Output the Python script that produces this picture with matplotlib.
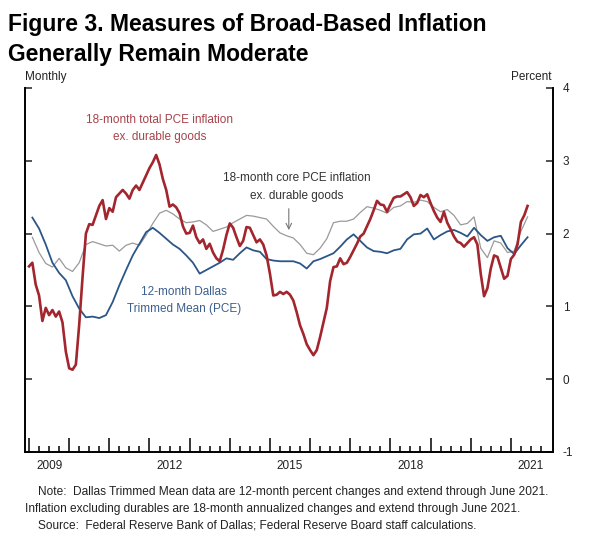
import numpy as np
import pandas as pd
import matplotlib
matplotlib.use('Agg')
from matplotlib import pyplot as plt

plt.rcParams['font.family'] = ['Liberation Sans', 'DejaVu Sans']
plt.rcParams['axes.unicode_minus'] = False

# monthly, Jan 2009 - Jun 2021
months = pd.date_range('2009-01-01', '2021-06-01', freq='MS')
# every other month, Feb 2009 - Jun 2021
bimonths = pd.date_range('2009-02-01', '2021-06-01', freq='2MS')

total_ex_durables = [
    1.55, 1.60, 1.30, 1.15, 0.80, 0.98, 0.88, 0.95, 0.86, 0.93, 0.78, 0.38,
    0.15, 0.13, 0.20, 0.75, 1.40, 2.00, 2.13, 2.12, 2.25, 2.38, 2.46, 2.20,
    2.35, 2.30, 2.50, 2.55, 2.60, 2.55, 2.48, 2.60, 2.66, 2.60, 2.70, 2.80,
    2.90, 2.98, 3.08, 2.95, 2.75, 2.60, 2.37, 2.40, 2.36, 2.28, 2.10, 2.00,
    2.01, 2.11, 1.95, 1.87, 1.92, 1.79, 1.86, 1.74, 1.66, 1.62, 1.78, 1.98,
    2.14, 2.08, 1.95, 1.83, 1.90, 2.09, 2.08, 1.98, 1.88, 1.92, 1.85, 1.70,
    1.45, 1.15, 1.16, 1.20, 1.17, 1.20, 1.16, 1.08, 0.92, 0.74, 0.62, 0.48,
    0.40, 0.33, 0.40, 0.58, 0.78, 0.98, 1.35, 1.54, 1.55, 1.66, 1.58, 1.60,
    1.68, 1.77, 1.86, 1.96, 2.00, 2.10, 2.20, 2.32, 2.45, 2.40, 2.39, 2.30,
    2.40, 2.49, 2.51, 2.51, 2.54, 2.57, 2.50, 2.38, 2.42, 2.53, 2.50, 2.54,
    2.42, 2.31, 2.22, 2.16, 2.30, 2.15, 2.06, 1.96, 1.89, 1.87, 1.82, 1.87,
    1.92, 1.95, 1.85, 1.45, 1.14, 1.25, 1.52, 1.70, 1.68, 1.53, 1.38, 1.42,
    1.65, 1.71, 1.85, 2.16, 2.25, 2.38,
]

dallas_trimmed = [
    2.22, 2.07, 1.85, 1.60, 1.46, 1.36, 1.14, 0.97, 0.85, 0.86, 0.84, 0.88,
    1.06, 1.29, 1.50, 1.70, 1.86, 2.02, 2.08, 2.01, 1.93, 1.85, 1.79, 1.70,
    1.60, 1.45, 1.50, 1.55, 1.60, 1.66, 1.64, 1.73, 1.81, 1.77, 1.75, 1.65,
    1.63, 1.62, 1.62, 1.62, 1.59, 1.52, 1.62, 1.65, 1.69, 1.73, 1.82, 1.92,
    1.99, 1.90, 1.81, 1.76, 1.75, 1.73, 1.77, 1.79, 1.92, 1.99, 2.00, 2.07,
    1.92, 1.98, 2.03, 2.05, 2.01, 1.96, 2.08, 1.98, 1.90, 1.95, 1.97, 1.80,
    1.72, 1.84, 1.95,
]

core_ex_durables = [
    1.95, 1.74, 1.59, 1.54, 1.66, 1.53, 1.48, 1.60, 1.85, 1.89, 1.86, 1.83,
    1.84, 1.76, 1.84, 1.87, 1.84, 1.98, 2.14, 2.28, 2.32, 2.27, 2.20, 2.15,
    2.16, 2.18, 2.12, 2.03, 2.06, 2.09, 2.15, 2.20, 2.25, 2.24, 2.22, 2.20,
    2.10, 2.01, 1.97, 1.94, 1.85, 1.73, 1.71, 1.80, 1.93, 2.15, 2.17, 2.17,
    2.20, 2.29, 2.37, 2.35, 2.32, 2.28, 2.36, 2.38, 2.44, 2.43, 2.46, 2.44,
    2.36, 2.30, 2.33, 2.25, 2.12, 2.14, 2.23, 1.80, 1.67, 1.90, 1.87, 1.74,
    1.76, 2.03, 2.23,
]

year_labels = ['2009', '2012', '2015', '2018', '2021']


def decimal_year(dates):
    return dates.year + (dates.month - 1) / 12


RED = '#a3252d'
BLUE = '#2b5688'
GRAY = '#9a9a9a'

fig = plt.figure(figsize=(6, 5.42), dpi=100)
ax = fig.add_axes([25 / 600, 1 - 452 / 542, 528 / 600, 364 / 542])

ax.plot(decimal_year(bimonths), core_ex_durables, color=GRAY, lw=0.9)
ax.plot(decimal_year(bimonths), dallas_trimmed, color=BLUE, lw=1.3)
ax.plot(decimal_year(months), total_ex_durables, color=RED, lw=1.9)

ax.set_xlim(2008.9, 2022.05)
ax.set_ylim(-1, 4)

ax.set_xticks(range(2009, 2022))
ax.set_xticks(np.arange(2009, 2022, 0.25), minor=True)
ax.tick_params(axis='x', which='major', direction='in', length=10, width=1.1, labelbottom=False)
ax.tick_params(axis='x', which='minor', direction='in', length=4.5, width=1.1)

ax.set_yticks(range(-1, 5))
ax.yaxis.set_ticks_position('both')
ax.tick_params(axis='y', direction='in', length=5, width=1.1, labelleft=False,
               labelright=True, pad=7, labelsize=8.5, colors='#222')

sec = ax.secondary_xaxis('bottom')
sec.set_xticks([int(y) + 0.5 for y in year_labels], labels=year_labels)
sec.tick_params(length=0, pad=6, labelsize=8.5, colors='#222')
sec.spines['bottom'].set_visible(False)

ax.spines['top'].set_visible(False)
for s in ['left', 'right', 'bottom']:
    ax.spines[s].set_linewidth(1.4)

# series labels
ax.text(2012.26, 3.44, '18-month total PCE inflation\nex. durable goods', color='#a6434b',
        fontsize=8.5, ha='center', va='center', linespacing=1.55)
ax.text(2015.67, 2.64, '18-month core PCE inflation\nex. durable goods', color='#333333',
        fontsize=8.5, ha='center', va='center', linespacing=1.6)
ax.text(2012.87, 1.085, '12-month Dallas\nTrimmed Mean (PCE)', color='#3b5f8f',
        fontsize=8.5, ha='center', va='center', linespacing=1.55)
ax.annotate('', xy=(2015.47, 2.01), xytext=(2015.47, 2.38),
            arrowprops=dict(arrowstyle='->', color='#777777', lw=0.8))

fig.text(8 / 600, 1 - 25 / 542, 'Figure 3. Measures of Broad-Based Inflation',
         fontsize=16.5, fontweight='bold', va='center', ha='left')
fig.text(8 / 600, 1 - 54 / 542, 'Generally Remain Moderate',
         fontsize=16.5, fontweight='bold', va='center', ha='left')
fig.text(25 / 600, 1 - 77 / 542, 'Monthly', fontsize=8.5, va='center', ha='left', color='#222')
fig.text(551 / 600, 1 - 77 / 542, 'Percent', fontsize=8.5, va='center', ha='right', color='#222')

fig.text(38 / 600, 1 - 492 / 542,
         'Note:  Dallas Trimmed Mean data are 12-month percent changes and extend through June 2021.',
         fontsize=8.6, va='center', ha='left', color='#222')
fig.text(25 / 600, 1 - 509 / 542,
         'Inflation excluding durables are 18-month annualized changes and extend through June 2021.',
         fontsize=8.6, va='center', ha='left', color='#222')
fig.text(38 / 600, 1 - 526 / 542,
         'Source:  Federal Reserve Bank of Dallas; Federal Reserve Board staff calculations.',
         fontsize=8.6, va='center', ha='left', color='#222')

fig.savefig('out.png', dpi=100)
